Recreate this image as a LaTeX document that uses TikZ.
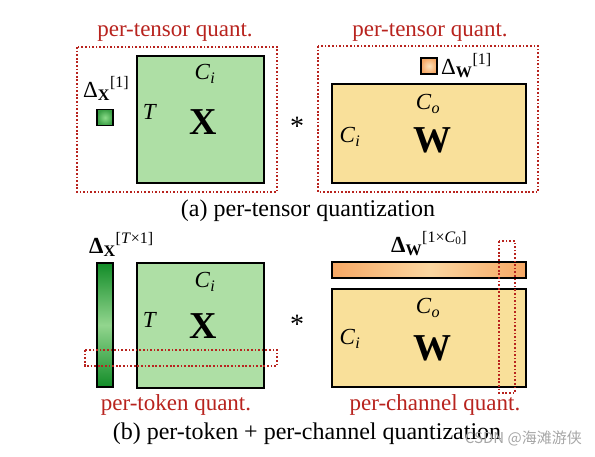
\documentclass[tikz,border=0pt]{standalone}
\usepackage{fontspec}
\setmainfont{Liberation Serif}
\newfontfamily\cjk{Noto Sans CJK SC}
\usetikzlibrary{positioning}

\definecolor{actgreen}{HTML}{AEDFA5}
\definecolor{darkgreen}{HTML}{128C28}
\definecolor{lightgreen}{HTML}{92D58E}
\definecolor{sqgreen}{HTML}{3A9F45}
\definecolor{sqlight}{HTML}{8CDC8A}
\definecolor{wyellow}{HTML}{F9E09A}
\definecolor{worange}{HTML}{F6A865}
\definecolor{lightorange}{HTML}{FBD6A0}
\definecolor{quantred}{HTML}{B8231E}

\newcommand{\chan}[1]{\textit{C}\textsubscript{\textit{#1}}}
\newcommand{\scalelbl}[3]{#1\textsubscript{\textbf{#2}}\raisebox{10pt}{\fontsize{16}{16}\selectfont #3}}

\tikzset{
	lbl/.style={font=\fontsize{23}{26}\selectfont, inner sep=0pt},
	quanttext/.style={font=\fontsize{23}{26}\selectfont, inner sep=0pt, text=quantred},
	captext/.style={font=\fontsize{24}{28}\selectfont, inner sep=0pt},
	bigsym/.style={font=\fontsize{38}{40}\selectfont\bfseries, inner sep=0pt},
	matbox/.style={draw, line width=1.8pt, inner sep=0pt},
	quantbox/.style={draw=quantred, line width=1.6pt, dash pattern=on 1.7pt off 1.9pt}
}

\begin{document}
\begin{tikzpicture}[x=1pt, y=-1pt]
	\useasboundingbox (0,0) rectangle (595,456);

	% (a) per-tensor
	\node[quanttext] (qta) at (175,32) {per-tensor quant.};
	\node[quanttext] (qtb) at (430,32) {per-tensor quant.};
	\draw[quantbox] (77,47) rectangle (277,192);
	\draw[quantbox] (318,46) rectangle (538,192);

	\node[matbox, fill=actgreen, minimum width=127pt, minimum height=127pt] (xa) at (200.5,119.5) {};
	\node[lbl] (xaci) at (205,74) {\chan{i}};
	\node[lbl] (xat) at (150,112) {\textit{T}};
	\node[bigsym] (xasym) at (203,122) {X};

	\node[matbox, line width=1.5pt, minimum size=16pt, inner color=sqlight, outer color=sqgreen] (dxa) at (105,117.5) {};
	\node[lbl, anchor=base west] (dxalbl) at (83,97) {\scalelbl{Δ}{X}{[1]}};

	\node[font=\fontsize{28}{28}\selectfont, inner sep=0pt] (stara) at (297,126) {*};

	\node[matbox, fill=wyellow, minimum width=194pt, minimum height=99pt] (wa) at (429,133.5) {};
	\node[lbl] (waco) at (428,104) {\chan{o}};
	\node[lbl] (waci) at (350,137) {\chan{i}};
	\node[bigsym] (wasym) at (432,140) {W};

	\node[matbox, line width=1.5pt, minimum size=16pt, inner color=lightorange!70!white, outer color=worange] (dwa) at (429,66) {};
	\node[lbl, anchor=base west] (dwalbl) at (441,74) {\scalelbl{Δ}{W}{[1]}};

	\node[captext] (capa) at (308,211) {(a) per-tensor quantization};

	% (b) per-token + per-channel
	\shade[top color=darkgreen, bottom color=darkgreen, middle color=lightgreen] (97,263) rectangle (113,387);
	\node[matbox, line width=1.5pt, minimum width=16pt, minimum height=124pt] (dxb) at (105,325) {};
	\node[lbl, anchor=base west] (dxblbl) at (89,253) {\scalelbl{\textbf{Δ}}{X}{[\textit{T}×1]}};

	\node[matbox, fill=actgreen, minimum width=127pt, minimum height=125pt] (xb) at (200.5,325.5) {};
	\node[lbl] (xbci) at (205,282) {\chan{i}};
	\node[lbl] (xbt) at (150,320) {\textit{T}};
	\node[bigsym] (xbsym) at (203,326) {X};

	\node[font=\fontsize{28}{28}\selectfont, inner sep=0pt] (starb) at (297,324) {*};

	\shade[left color=worange, right color=worange, middle color=lightorange] (332,262) rectangle (526,278);
	\node[matbox, line width=1.5pt, minimum width=194pt, minimum height=16pt] (dwb) at (429,270) {};
	\node[lbl, anchor=base west] (dwblbl) at (391,252) {\scalelbl{\textbf{Δ}}{W}{[1×\textit{C}\textsubscript{0}]}};

	\node[matbox, fill=wyellow, minimum width=194pt, minimum height=98pt] (wb) at (429,338) {};
	\node[lbl] (wbco) at (428,308) {\chan{o}};
	\node[lbl] (wbci) at (350,339) {\chan{i}};
	\node[bigsym] (wbsym) at (432,348) {W};

	\draw[quantbox] (85,350) rectangle (277,366);
	\draw[quantbox] (499,241) rectangle (515,393);

	\node[quanttext] (qtc) at (176,405) {per-token quant.};
	\node[quanttext] (qtd) at (435,405) {per-channel quant.};
	\node[captext] (capb) at (307,434) {(b) per-token + per-channel quantization};

	\node[font=\cjk\fontsize{15}{15}\selectfont, text=black!35, anchor=east, inner sep=0pt] (mark) at (582,438) {CSDN @海滩游侠};
\end{tikzpicture}
\end{document}
